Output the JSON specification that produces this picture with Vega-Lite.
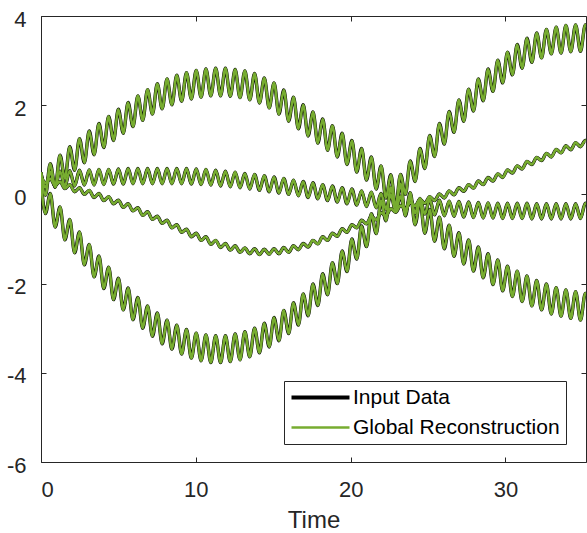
{
  "$schema": "https://vega.github.io/schema/vega-lite/v6.json",
  "width": 545,
  "height": 446,
  "autosize": {"type": "none"},
  "padding": {"left": 41, "top": 16, "right": 1, "bottom": 71},
  "background": "white",
  "config": {
    "font": "Liberation Sans",
    "view": {"stroke": "#262626", "strokeWidth": 1},
    "axis": {
      "grid": false, "domain": false, "ticks": true,
      "tickColor": "#262626", "tickSize": -5, "tickWidth": 1,
      "labelColor": "#262626", "labelFont": "Liberation Sans", "labelFontSize": 22,
      "titleFont": "Liberation Sans", "titleFontSize": 24, "titleColor": "#262626", "titleFontWeight": "normal"
    }
  },
  "data": {"values": [
    {"t":0,"A":0.50,"B":0.29,"C":0.48,"D":0.41},
    {"t":0.286,"A":-0.02,"B":-0.43,"C":0.16,"D":0.26},
    {"t":0.600,"A":0.69,"B":0.02,"C":0.50,"D":0.35},
    {"t":0.914,"A":0.16,"B":-0.73,"C":0.17,"D":0.20},
    {"t":1.228,"A":0.88,"B":-0.28,"C":0.52,"D":0.29},
    {"t":1.543,"A":0.35,"B":-1.02,"C":0.18,"D":0.13},
    {"t":1.857,"A":1.07,"B":-0.56,"C":0.53,"D":0.22},
    {"t":2.171,"A":0.54,"B":-1.31,"C":0.19,"D":0.06},
    {"t":2.485,"A":1.25,"B":-0.84,"C":0.54,"D":0.15},
    {"t":2.799,"A":0.71,"B":-1.58,"C":0.21,"D":0.00},
    {"t":3.114,"A":1.42,"B":-1.12,"C":0.55,"D":0.09},
    {"t":3.428,"A":0.89,"B":-1.85,"C":0.21,"D":-0.07},
    {"t":3.742,"A":1.59,"B":-1.38,"C":0.56,"D":0.02},
    {"t":4.056,"A":1.05,"B":-2.11,"C":0.22,"D":-0.14},
    {"t":4.370,"A":1.75,"B":-1.63,"C":0.56,"D":-0.05},
    {"t":4.684,"A":1.21,"B":-2.36,"C":0.23,"D":-0.21},
    {"t":4.998,"A":1.91,"B":-1.88,"C":0.57,"D":-0.13},
    {"t":5.313,"A":1.37,"B":-2.59,"C":0.23,"D":-0.29},
    {"t":5.627,"A":2.06,"B":-2.10,"C":0.58,"D":-0.21},
    {"t":5.941,"A":1.52,"B":-2.81,"C":0.24,"D":-0.37},
    {"t":6.255,"A":2.21,"B":-2.31,"C":0.58,"D":-0.30},
    {"t":6.569,"A":1.66,"B":-3.00,"C":0.24,"D":-0.47},
    {"t":6.883,"A":2.35,"B":-2.50,"C":0.58,"D":-0.39},
    {"t":7.198,"A":1.80,"B":-3.18,"C":0.24,"D":-0.56},
    {"t":7.512,"A":2.48,"B":-2.66,"C":0.58,"D":-0.49},
    {"t":7.826,"A":1.92,"B":-3.35,"C":0.24,"D":-0.65},
    {"t":8.140,"A":2.59,"B":-2.82,"C":0.58,"D":-0.58},
    {"t":8.454,"A":2.01,"B":-3.47,"C":0.24,"D":-0.75},
    {"t":8.768,"A":2.67,"B":-2.93,"C":0.58,"D":-0.68},
    {"t":9.082,"A":2.09,"B":-3.58,"C":0.24,"D":-0.85},
    {"t":9.397,"A":2.73,"B":-3.03,"C":0.58,"D":-0.78},
    {"t":9.711,"A":2.14,"B":-3.67,"C":0.23,"D":-0.95},
    {"t":10.025,"A":2.78,"B":-3.11,"C":0.57,"D":-0.87},
    {"t":10.339,"A":2.18,"B":-3.73,"C":0.22,"D":-1.03},
    {"t":10.653,"A":2.81,"B":-3.15,"C":0.56,"D":-0.95},
    {"t":10.967,"A":2.21,"B":-3.77,"C":0.21,"D":-1.12},
    {"t":11.282,"A":2.83,"B":-3.17,"C":0.54,"D":-1.03},
    {"t":11.596,"A":2.21,"B":-3.77,"C":0.19,"D":-1.19},
    {"t":11.910,"A":2.83,"B":-3.17,"C":0.52,"D":-1.10},
    {"t":12.224,"A":2.20,"B":-3.75,"C":0.17,"D":-1.25},
    {"t":12.538,"A":2.80,"B":-3.13,"C":0.50,"D":-1.15},
    {"t":12.852,"A":2.17,"B":-3.71,"C":0.15,"D":-1.30},
    {"t":13.167,"A":2.77,"B":-3.08,"C":0.47,"D":-1.20},
    {"t":13.481,"A":2.12,"B":-3.64,"C":0.12,"D":-1.33},
    {"t":13.795,"A":2.71,"B":-3.00,"C":0.45,"D":-1.22},
    {"t":14.109,"A":2.05,"B":-3.55,"C":0.09,"D":-1.35},
    {"t":14.423,"A":2.61,"B":-2.89,"C":0.42,"D":-1.23},
    {"t":14.737,"A":1.94,"B":-3.42,"C":0.06,"D":-1.34},
    {"t":15.052,"A":2.50,"B":-2.76,"C":0.39,"D":-1.22},
    {"t":15.366,"A":1.80,"B":-3.28,"C":0.03,"D":-1.33},
    {"t":15.680,"A":2.34,"B":-2.60,"C":0.36,"D":-1.19},
    {"t":15.994,"A":1.64,"B":-3.12,"C":0.00,"D":-1.30},
    {"t":16.308,"A":2.18,"B":-2.43,"C":0.32,"D":-1.15},
    {"t":16.622,"A":1.47,"B":-2.93,"C":-0.03,"D":-1.24},
    {"t":16.936,"A":2.01,"B":-2.23,"C":0.29,"D":-1.10},
    {"t":17.251,"A":1.31,"B":-2.72,"C":-0.07,"D":-1.18},
    {"t":17.565,"A":1.85,"B":-2.01,"C":0.26,"D":-1.03},
    {"t":17.879,"A":1.15,"B":-2.49,"C":-0.10,"D":-1.11},
    {"t":18.193,"A":1.69,"B":-1.78,"C":0.22,"D":-0.95},
    {"t":18.507,"A":0.99,"B":-2.25,"C":-0.14,"D":-1.03},
    {"t":18.821,"A":1.54,"B":-1.53,"C":0.19,"D":-0.87},
    {"t":19.136,"A":0.84,"B":-2.00,"C":-0.17,"D":-0.94},
    {"t":19.450,"A":1.37,"B":-1.27,"C":0.15,"D":-0.77},
    {"t":19.764,"A":0.67,"B":-1.73,"C":-0.21,"D":-0.85},
    {"t":20.078,"A":1.21,"B":-1.00,"C":0.12,"D":-0.68},
    {"t":20.392,"A":0.50,"B":-1.45,"C":-0.24,"D":-0.75},
    {"t":20.706,"A":1.03,"B":-0.71,"C":0.08,"D":-0.58},
    {"t":21.021,"A":0.32,"B":-1.17,"C":-0.27,"D":-0.66},
    {"t":21.335,"A":0.84,"B":-0.43,"C":0.05,"D":-0.49},
    {"t":21.649,"A":0.12,"B":-0.88,"C":-0.30,"D":-0.57},
    {"t":21.963,"A":0.64,"B":-0.14,"C":0.02,"D":-0.41},
    {"t":22.277,"A":-0.08,"B":-0.59,"C":-0.33,"D":-0.48},
    {"t":22.591,"A":0.44,"B":0.16,"C":-0.01,"D":-0.32},
    {"t":22.906,"A":-0.28,"B":-0.29,"C":-0.37,"D":-0.40},
    {"t":23.220,"A":0.24,"B":0.45,"C":-0.04,"D":-0.25},
    {"t":23.534,"A":-0.48,"B":0.00,"C":-0.40,"D":-0.33},
    {"t":23.848,"A":0.04,"B":0.75,"C":-0.07,"D":-0.18},
    {"t":24.162,"A":-0.68,"B":0.29,"C":-0.42,"D":-0.26},
    {"t":24.476,"A":-0.15,"B":1.03,"C":-0.09,"D":-0.11},
    {"t":24.790,"A":-0.87,"B":0.58,"C":-0.44,"D":-0.20},
    {"t":25.105,"A":-0.34,"B":1.32,"C":-0.11,"D":-0.05},
    {"t":25.419,"A":-1.05,"B":0.85,"C":-0.46,"D":-0.14},
    {"t":25.733,"A":-0.51,"B":1.59,"C":-0.13,"D":0.01},
    {"t":26.047,"A":-1.22,"B":1.13,"C":-0.48,"D":-0.08},
    {"t":26.361,"A":-0.69,"B":1.86,"C":-0.15,"D":0.08},
    {"t":26.675,"A":-1.39,"B":1.39,"C":-0.49,"D":-0.01},
    {"t":26.990,"A":-0.86,"B":2.12,"C":-0.16,"D":0.15},
    {"t":27.304,"A":-1.56,"B":1.64,"C":-0.51,"D":0.07},
    {"t":27.618,"A":-1.02,"B":2.36,"C":-0.17,"D":0.22},
    {"t":27.932,"A":-1.72,"B":1.87,"C":-0.52,"D":0.14},
    {"t":28.246,"A":-1.18,"B":2.59,"C":-0.18,"D":0.30},
    {"t":28.560,"A":-1.87,"B":2.10,"C":-0.53,"D":0.22},
    {"t":28.875,"A":-1.33,"B":2.81,"C":-0.19,"D":0.38},
    {"t":29.189,"A":-2.02,"B":2.31,"C":-0.53,"D":0.30},
    {"t":29.503,"A":-1.47,"B":3.01,"C":-0.20,"D":0.46},
    {"t":29.817,"A":-2.16,"B":2.50,"C":-0.54,"D":0.38},
    {"t":30.131,"A":-1.61,"B":3.19,"C":-0.20,"D":0.55},
    {"t":30.445,"A":-2.29,"B":2.68,"C":-0.54,"D":0.48},
    {"t":30.759,"A":-1.72,"B":3.36,"C":-0.20,"D":0.64},
    {"t":31.074,"A":-2.40,"B":2.83,"C":-0.54,"D":0.57},
    {"t":31.388,"A":-1.83,"B":3.50,"C":-0.20,"D":0.74},
    {"t":31.702,"A":-2.50,"B":2.96,"C":-0.55,"D":0.67},
    {"t":32.016,"A":-1.93,"B":3.62,"C":-0.21,"D":0.83},
    {"t":32.330,"A":-2.59,"B":3.06,"C":-0.55,"D":0.76},
    {"t":32.644,"A":-2.01,"B":3.70,"C":-0.21,"D":0.92},
    {"t":32.959,"A":-2.68,"B":3.15,"C":-0.55,"D":0.84},
    {"t":33.273,"A":-2.09,"B":3.75,"C":-0.21,"D":1.01},
    {"t":33.587,"A":-2.73,"B":3.17,"C":-0.55,"D":0.93},
    {"t":33.901,"A":-2.14,"B":3.79,"C":-0.21,"D":1.09},
    {"t":34.215,"A":-2.78,"B":3.20,"C":-0.55,"D":1.00},
    {"t":34.529,"A":-2.18,"B":3.80,"C":-0.21,"D":1.16},
    {"t":34.843,"A":-2.82,"B":3.21,"C":-0.54,"D":1.07},
    {"t":35.158,"A":-2.22,"B":3.80,"C":-0.20,"D":1.21},
    {"t":35.2,"A":-2.25,"B":3.78,"C":-0.22,"D":1.20}
  ]},
  "transform": [{"fold": ["A", "B", "C", "D"], "as": ["series", "y"]}],
  "layer": [
    {
      "mark": {"type": "line", "interpolate": "monotone", "clip": true},
      "encoding": {
        "x": {"field": "t", "type": "quantitative", "scale": {"domain": [0, 35.2], "nice": false, "zero": false},
              "axis": {"orient": "bottom", "values": [0, 10, 20, 30], "title": "Time", "labelPadding": 22, "titlePadding": 8, "labelExpr": "'' + datum.value"}},
        "y": {"field": "y", "type": "quantitative", "scale": {"domain": [-6, 4], "nice": false, "zero": false},
              "axis": {"orient": "left", "values": [-6, -4, -2, 0, 2, 4], "title": null, "labelPadding": 20, "labelOffset": 3, "labelExpr": "'' + datum.value"}},
        "detail": {"field": "series", "type": "nominal"},
        "stroke": {"datum": "Input Data", "type": "nominal",
                   "scale": {"domain": ["Input Data", "Global Reconstruction"], "range": ["#000000", "#77AC30"]},
                   "legend": {
                     "orient": "none", "legendX": 243, "legendY": 365, "direction": "vertical", "title": null,
                     "symbolType": "stroke", "symbolSize": 3364, "symbolStrokeWidth": 3, "symbolOffset": 20,
                     "labelFont": "Liberation Sans", "labelFontSize": 21, "labelColor": "#000000", "labelOffset": 22,
                     "fillColor": "white", "strokeColor": "#262626", "cornerRadius": 0, "padding": 6, "rowPadding": 8,
                     "labelLimit": 400,
                     "encode": {"symbols": {"update": {"strokeWidth": {"signal": "datum.value === 'Input Data' ? 4 : 2.5"}}}}
                   }},
        "strokeWidth": {"value": 3.4}
      }
    },
    {
      "mark": {"type": "line", "interpolate": "monotone", "clip": true},
      "encoding": {
        "x": {"field": "t", "type": "quantitative",
              "axis": {"orient": "top", "values": [0, 10, 20, 30], "title": null, "labels": false}},
        "y": {"field": "y", "type": "quantitative",
              "axis": {"orient": "right", "values": [-6, -4, -2, 0, 2, 4], "title": null, "labels": false}},
        "detail": {"field": "series", "type": "nominal"},
        "stroke": {"datum": "Global Reconstruction", "type": "nominal"},
        "strokeWidth": {"value": 2.6}
      }
    }
  ],
  "resolve": {"axis": {"x": "independent", "y": "independent"}}
}
